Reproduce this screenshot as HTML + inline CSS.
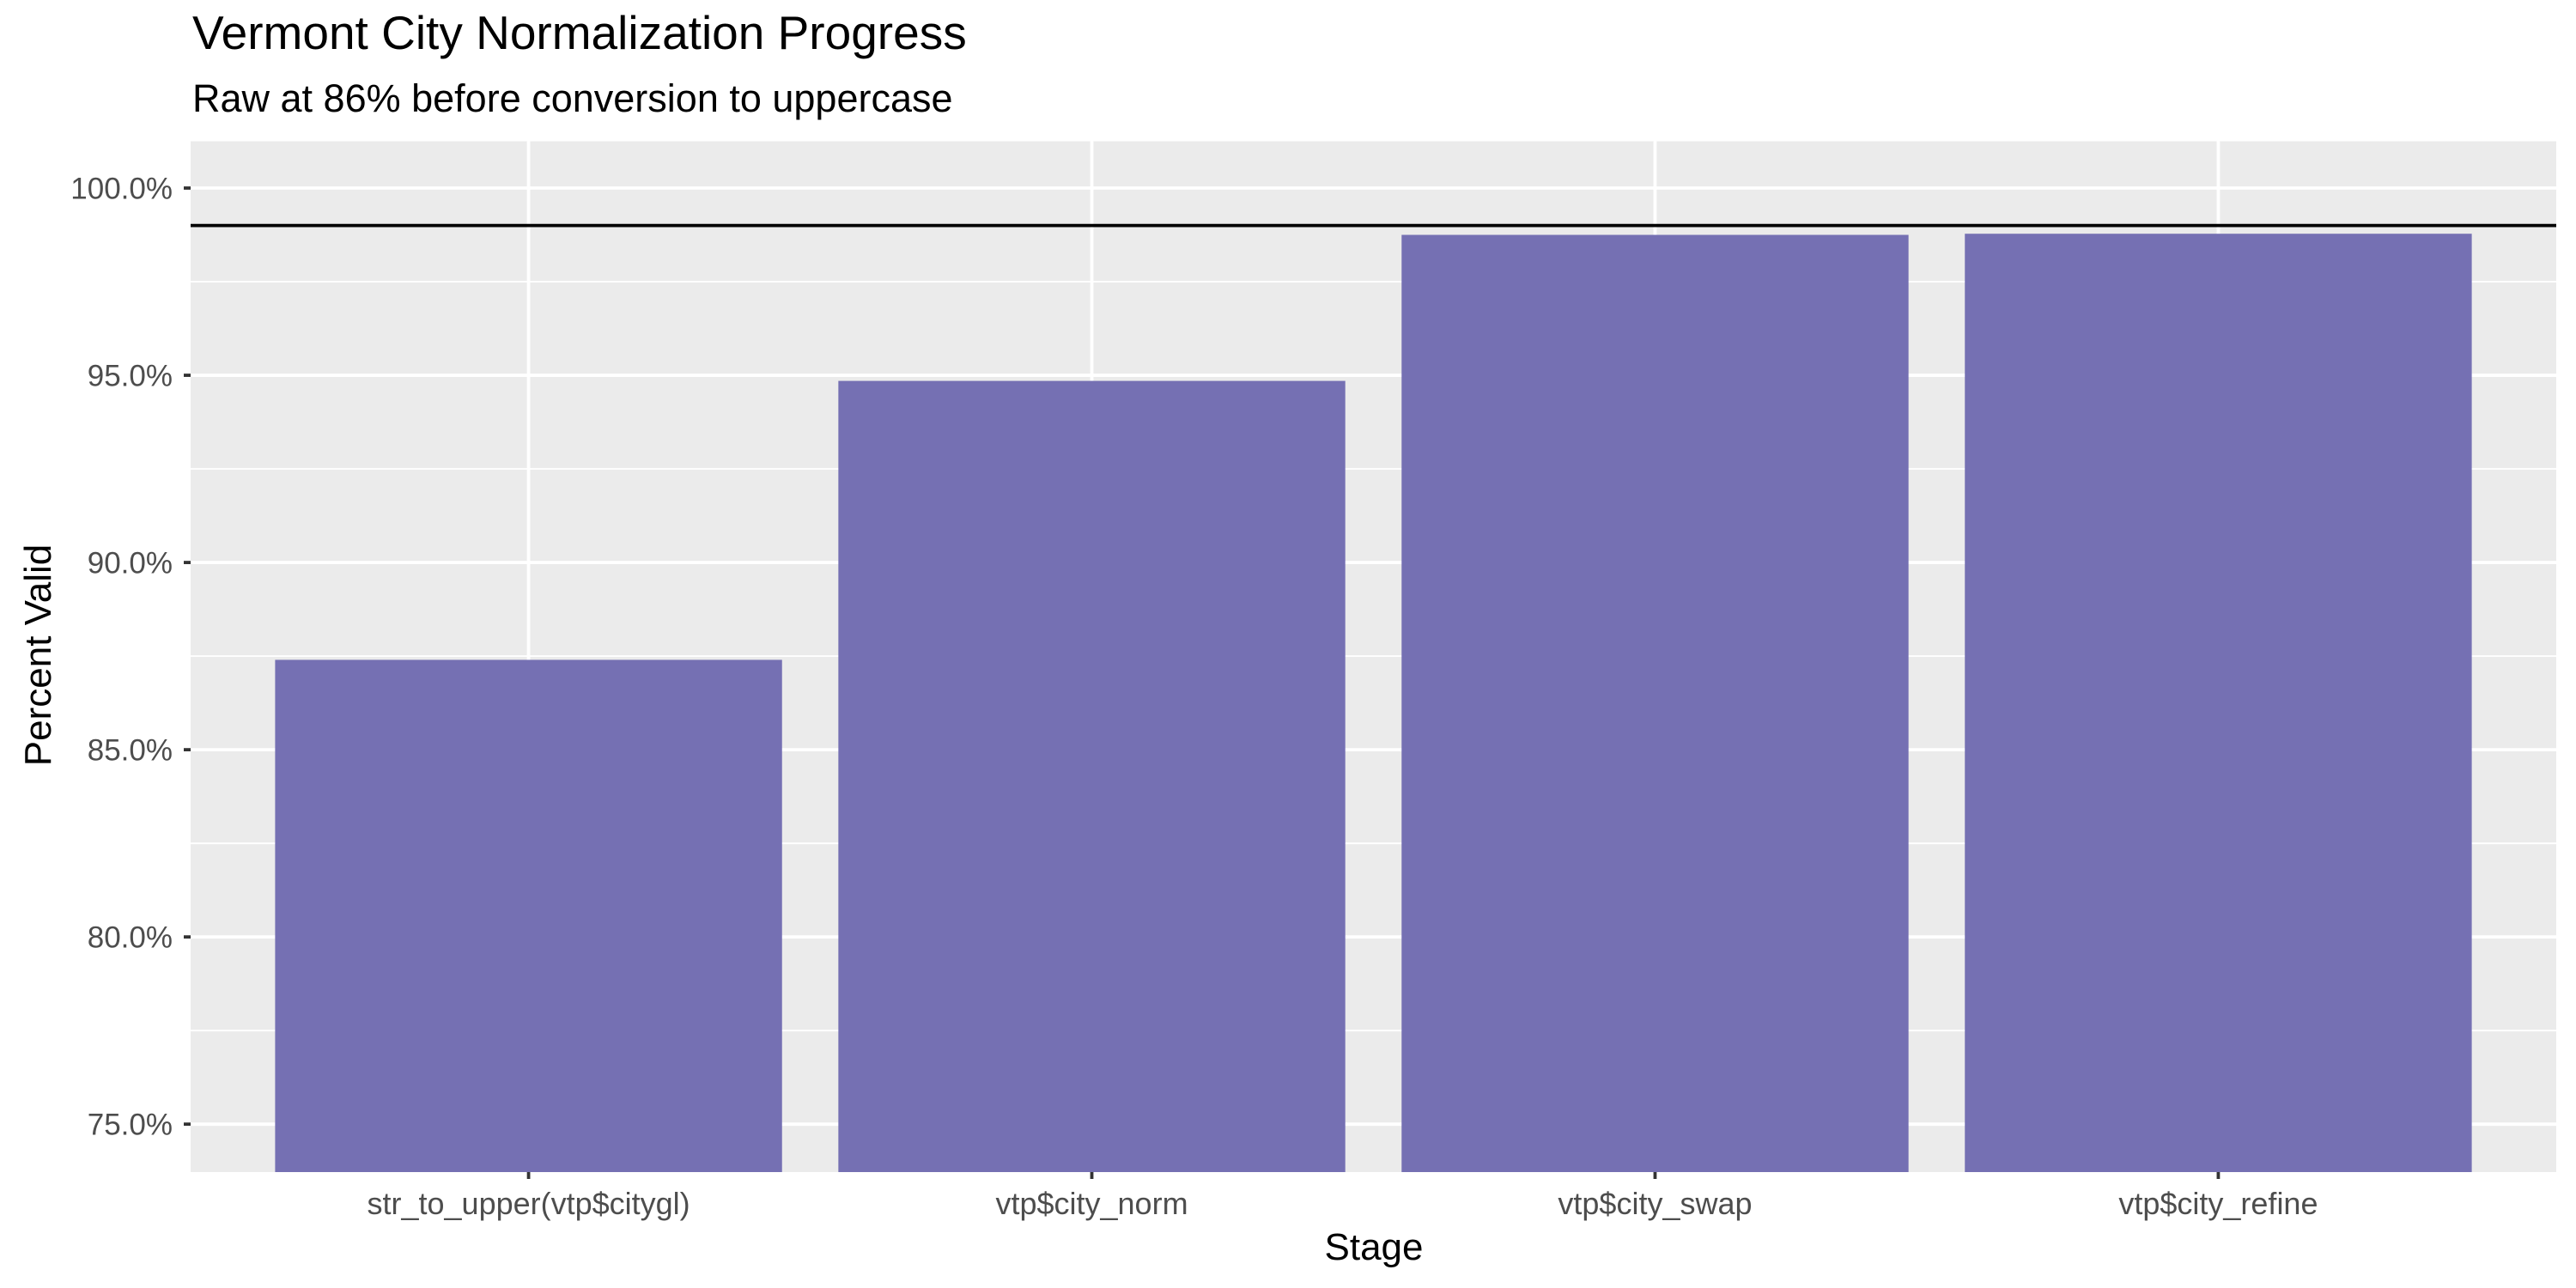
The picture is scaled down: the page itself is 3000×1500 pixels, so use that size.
<!DOCTYPE html>
<html><head><meta charset="utf-8"><style>
html,body{margin:0;padding:0;background:#fff;}
svg{display:block;font-family:"Liberation Sans",sans-serif;}
</style></head><body>
<svg id="chart" width="3000" height="1500" viewBox="0 0 3000 1500" xmlns="http://www.w3.org/2000/svg">
<rect width="3000" height="1500" fill="#fff"/>
<text x="224" y="57" font-size="55" fill="#000">Vermont City Normalization Progress</text>
<text x="224" y="130" font-size="45" fill="#000">Raw at 86% before conversion to uppercase</text>
<rect x="222" y="164.5" width="2755" height="1200.5" fill="#ebebeb"/>
<g id="grid"></g>
<g id="bars"></g>
<g id="axes"></g>
<text x="1600" y="1467" font-size="44" text-anchor="middle" fill="#000">Stage</text>
<text transform="translate(59,763) rotate(-90)" font-size="44" text-anchor="middle" fill="#000">Percent Valid</text>
</svg>
<script>
const categories = ["str_to_upper(vtp$citygl)", "vtp$city_norm", "vtp$city_swap", "vtp$city_refine"];
const values = [87.4, 94.85, 98.75, 98.78];
const yTicks = [75, 80, 85, 90, 95, 100];
const yTickLabels = ["75.0%", "80.0%", "85.0%", "90.0%", "95.0%", "100.0%"];
const yMinor = [77.5, 82.5, 87.5, 92.5, 97.5];
const refLine = 99;

const NS = "http://www.w3.org/2000/svg";
const P = {l:222, r:2977, t:164.5, b:1365};
const yMin = 73.72, yMax = 101.25;
function y(v){ return P.b - (v - yMin) / (yMax - yMin) * (P.b - P.t); }
const band = (P.r - P.l) / (categories.length - 1 + 1.2);
function xc(i){ return P.l + band * (i + 0.6); }
const bw = band * 0.9;
function mk(tag, attrs, parent){ const e=document.createElementNS(NS,tag); for(const k in attrs) e.setAttribute(k, attrs[k]); parent.appendChild(e); return e; }
const grid=document.getElementById('grid'), bars=document.getElementById('bars'), axes=document.getElementById('axes');

yMinor.forEach(v=>{
  const l=mk('line',{x1:P.l,x2:P.r,y1:y(v),y2:y(v),stroke:'#fff','stroke-width':1.9},grid);
  
  
});
yTicks.forEach((v,i)=>{
  const l=mk('line',{x1:P.l,x2:P.r,y1:y(v),y2:y(v),stroke:'#fff','stroke-width':3.8},grid);
  
  
  const t=mk('line',{x1:P.l-8,x2:P.l,y1:y(v),y2:y(v),stroke:'#333','stroke-width':3.8},axes);
  
  
  const tx=mk('text',{x:201,y:y(v)+12.5,'font-size':35,'text-anchor':'end',fill:'#4d4d4d'},axes);
  tx.textContent=yTickLabels[i];
  
  
});
categories.forEach((c,i)=>{
  const l=mk('line',{x1:xc(i),x2:xc(i),y1:P.t,y2:P.b,stroke:'#fff','stroke-width':3.8},grid);
  
  
  const b=mk('rect',{x:xc(i)-bw/2,y:y(values[i]),width:bw,height:P.b-y(values[i]),fill:'#7570b3'},bars);
  
  
  const t=mk('line',{x1:xc(i),x2:xc(i),y1:P.b,y2:P.b+8,stroke:'#333','stroke-width':3.8},axes);
  
  
  const tx=mk('text',{x:xc(i),y:1414,'font-size':36,'text-anchor':'middle',fill:'#4d4d4d'},axes);
  tx.textContent=c;
  
  
});
const h=mk('line',{x1:P.l,x2:P.r,y1:y(refLine),y2:y(refLine),stroke:'#000','stroke-width':3.8},bars);


</script>
</body></html>
